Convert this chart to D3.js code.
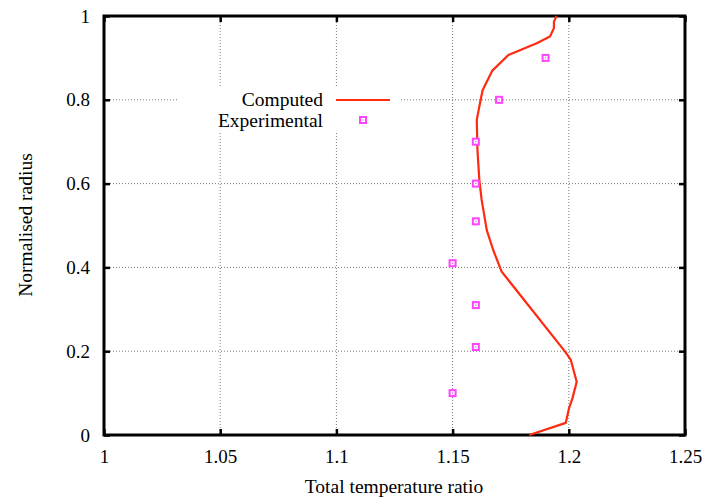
<!DOCTYPE html>
<html>
<head>
<meta charset="utf-8">
<script src="https://cdn.jsdelivr.net/npm/d3@7"></script>
<style>
  html, body { margin: 0; padding: 0; background: #fff; }
  svg { display: block; }
  text { font-family: "Liberation Serif", "DejaVu Serif", serif; fill: #000; }
</style>
</head>
<body>
<div id="chart"></div>
<script>
// computed profile (total temperature ratio vs normalised radius)
const computedX = [1.183, 1.1987, 1.2001, 1.2016, 1.2034, 1.2008, 1.1984, 1.1711, 1.1675, 1.1647,
                   1.1625, 1.1615, 1.1607, 1.1604, 1.1615, 1.1629, 1.167, 1.174, 1.1862, 1.1919,
                   1.1936, 1.1936, 1.1947]
const computedY = [0, 0.029, 0.064, 0.088, 0.127, 0.18, 0.199, 0.39, 0.441, 0.489,
                   0.561, 0.609, 0.68, 0.752, 0.784, 0.823, 0.869, 0.907, 0.935, 0.951,
                   0.971, 0.986, 1.0]

// experimental points
const expX = [1.15, 1.16, 1.16, 1.15, 1.16, 1.16, 1.16, 1.17, 1.19]
const expY = [0.10, 0.21, 0.31, 0.41, 0.51, 0.60, 0.70, 0.80, 0.90]

const xTicks = [1, 1.05, 1.1, 1.15, 1.2, 1.25]
const yTicks = [0, 0.2, 0.4, 0.6, 0.8, 1]

const W = 706, H = 502
const margin = { top: 16, right: 21, bottom: 67, left: 104 }
const width = W - margin.left - margin.right,
      height = H - margin.top - margin.bottom

const svg = d3.select('#chart').append('svg')
    .attr('width', W)
    .attr('height', H)

const g = svg.append('g')
    .attr('transform', `translate(${margin.left},${margin.top})`)

const x = d3.scaleLinear().domain([1, 1.25]).range([0, width])
const y = d3.scaleLinear().domain([0, 1]).range([height, 0])

// grid (dotted)
g.append('g').selectAll('line')
    .data(xTicks.slice(1, -1))
    .join('line')
    .attr('x1', d => x(d)).attr('x2', d => x(d))
    .attr('y1', 0).attr('y2', height)
    .attr('stroke', '#777').attr('stroke-width', 1).attr('stroke-dasharray', '1,2')
g.append('g').selectAll('line')
    .data(yTicks.slice(1, -1))
    .join('line')
    .attr('y1', d => y(d)).attr('y2', d => y(d))
    .attr('x1', 0).attr('x2', width)
    .attr('stroke', '#777').attr('stroke-width', 1).attr('stroke-dasharray', '1,2')

// legend box hides the grid behind it
g.append('rect')
    .attr('x', 178 - margin.left).attr('y', 88 - margin.top)
    .attr('width', 222).attr('height', 44)
    .attr('fill', '#fff')

// axes using d3 axis generators, ticks inward
const fmt = d => String(d)
const axBottom = g.append('g').attr('transform', `translate(0,${height})`)
    .call(d3.axisBottom(x).tickValues(xTicks).tickFormat(fmt).tickSize(-6).tickPadding(15))
const axLeft = g.append('g')
    .call(d3.axisLeft(y).tickValues(yTicks).tickFormat(fmt).tickSize(-6).tickPadding(14))
const axTop = g.append('g')
    .call(d3.axisTop(x).tickValues(xTicks).tickFormat('').tickSize(-6))
const axRight = g.append('g').attr('transform', `translate(${width},0)`)
    .call(d3.axisRight(y).tickValues(yTicks).tickFormat('').tickSize(-6))

;[axBottom, axLeft, axTop, axRight].forEach(a => {
    a.attr('font-family', null).attr('font-size', null)
    a.select('.domain').remove()
    a.selectAll('.tick line').attr('stroke', '#000').attr('stroke-width', 2.5)
    a.selectAll('.tick text')
        .style('font-family', '"Liberation Serif", serif')
        .style('font-size', '19px')
        .attr('fill', '#000')
})
axBottom.selectAll('.tick text').attr('dy', '0.71em')

// frame
g.append('rect')
    .attr('x', 0).attr('y', 0)
    .attr('width', width).attr('height', height)
    .attr('fill', 'none').attr('stroke', '#000').attr('stroke-width', 3)

// computed curve
const line = d3.line().x(d => x(d[0])).y(d => y(d[1]))
g.append('path')
    .datum(computedX.map((v, i) => [v, computedY[i]]))
    .attr('d', line)
    .attr('fill', 'none')
    .attr('stroke', '#ff2a10')
    .attr('stroke-width', 2.2)
    .attr('stroke-linejoin', 'round')

// square markers
const marker = (sel, cx, cy) => {
    sel.append('rect')
        .attr('x', cx - 3).attr('y', cy - 3)
        .attr('width', 6).attr('height', 6)
        .attr('fill', '#fff').attr('stroke', '#ff44ff').attr('stroke-width', 2)
    sel.append('rect')
        .attr('x', cx - 0.5).attr('y', cy - 0.5)
        .attr('width', 1).attr('height', 1)
        .attr('fill', '#c020c0')
}
const pts = g.append('g')
expX.forEach((v, i) => marker(pts, x(v), y(expY[i])))

// legend
const lg = svg.append('g')
lg.append('text').attr('x', 323).attr('y', 106)
    .attr('text-anchor', 'end').attr('font-size', 19.5).text('Computed')
lg.append('text').attr('x', 323).attr('y', 127)
    .attr('text-anchor', 'end').attr('font-size', 19.5).text('Experimental')
lg.append('line')
    .attr('x1', 336).attr('x2', 390).attr('y1', 100).attr('y2', 100)
    .attr('stroke', '#ff2a10').attr('stroke-width', 2.2)
marker(lg, 363, 120)

// axis titles
svg.append('text')
    .attr('x', 394).attr('y', 493)
    .attr('text-anchor', 'middle').attr('font-size', 19.5)
    .text('Total temperature ratio')
svg.append('text')
    .attr('transform', `translate(32,225) rotate(-90)`)
    .attr('text-anchor', 'middle').attr('font-size', 19.5)
    .text('Normalised radius')
</script>
</body>
</html>
